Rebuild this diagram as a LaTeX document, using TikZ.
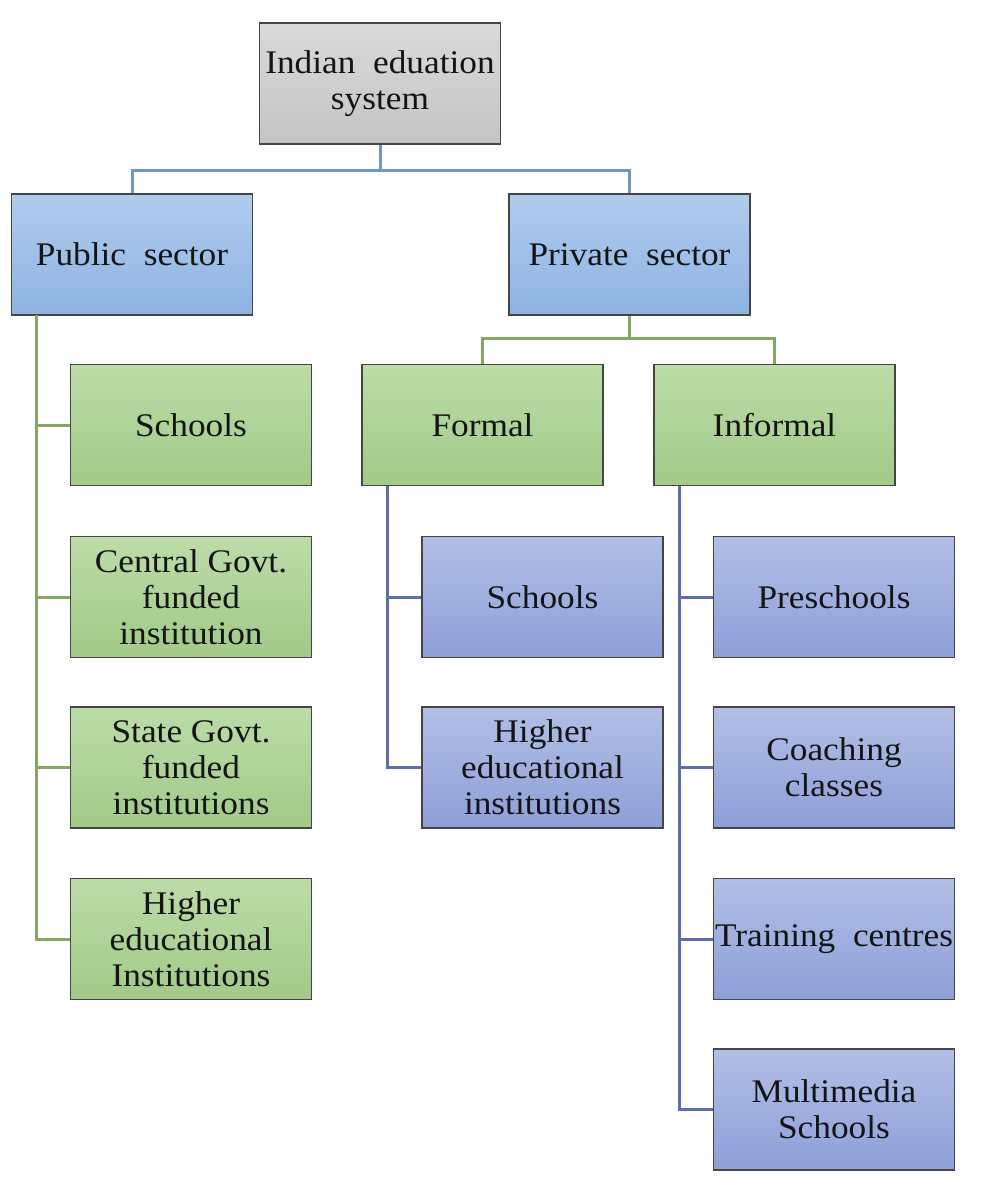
\documentclass[tikz,border=0pt]{standalone}
\usepackage{fontspec}
\setmainfont[FakeStretch=1.07]{Liberation Serif}
\definecolor{boxline}{HTML}{454545}
\definecolor{grayT}{HTML}{DADADA}\definecolor{grayB}{HTML}{C4C4C4}
\definecolor{blueT}{HTML}{B0CCEE}\definecolor{blueB}{HTML}{8EB3E2}
\definecolor{greenT}{HTML}{BCDCA8}\definecolor{greenB}{HTML}{A2CA88}
\definecolor{purT}{HTML}{B2BFE6}\definecolor{purB}{HTML}{8E9FD8}
\definecolor{lineblue}{HTML}{6F98C0}
\definecolor{linegreen}{HTML}{82A862}
\definecolor{linepur}{HTML}{5C6EA8}
\tikzset{
  box/.style={draw=boxline, line width=1.4pt, rectangle, minimum width=241pt, minimum height=121pt,
    align=center, inner sep=0pt, font=\fontsize{33}{36}\selectfont, text=black!92},
  graybox/.style={box, top color=grayT, bottom color=grayB},
  bluebox/.style={box, top color=blueT, bottom color=blueB},
  greenbox/.style={box, top color=greenT, bottom color=greenB},
  purbox/.style={box, top color=purT, bottom color=purB},
  bline/.style={draw=lineblue, line width=3pt},
  gline/.style={draw=linegreen, line width=3pt},
  pline/.style={draw=linepur, line width=3pt},
}
\begin{document}
\begin{tikzpicture}[x=1pt,y=-1pt]
\useasboundingbox (0,0) rectangle (983,1194);
% nodes
\node[graybox] (root) at (380,83.5) {Indian\ \ eduation\\system};
\node[bluebox] (pub) at (132,254.5) {Public\ \ sector};
\node[bluebox] (priv) at (629.5,254.5) {Private\ \ sector};
\node[greenbox] (g1) at (191,425) {Schools};
\node[greenbox] (g2) at (191,597) {Central Govt.\\funded\\institution};
\node[greenbox] (g3) at (191,767.5) {State Govt.\\funded\\institutions};
\node[greenbox] (g4) at (191,939) {Higher\\educational\\Institutions};
\node[greenbox] (formal) at (482.5,425) {Formal};
\node[greenbox] (informal) at (774.5,425) {Informal};
\node[purbox] (f1) at (542.5,597) {Schools};
\node[purbox] (f2) at (542.5,767.5) {Higher\\educational\\institutions};
\node[purbox] (i1) at (834,597) {Preschools};
\node[purbox] (i2) at (834,767.5) {Coaching\\classes};
\node[purbox] (i3) at (834,939) {Training\ \ centres};
\node[purbox] (i4) at (834,1109.5) {Multimedia\\Schools};
% junctions
\coordinate (rj) at (380,170);
\coordinate (pj) at (629.5,338);
\coordinate (pubt) at (36,315);
\coordinate (fort) at (387,485.5);
\coordinate (inft) at (679,485.5);
% connectors
\draw[bline] (root.south) -- (rj);
\draw[bline] (rj) -| (pub.north);
\draw[bline] (rj) -| (priv.north);
\draw[gline] (pubt) |- (g1.west);
\draw[gline] (pubt) |- (g2.west);
\draw[gline] (pubt) |- (g3.west);
\draw[gline] (pubt) |- (g4.west);
\draw[gline] (priv.south) -- (pj);
\draw[gline] (pj) -| (formal.north);
\draw[gline] (pj) -| (informal.north);
\draw[pline] (fort) |- (f1.west);
\draw[pline] (fort) |- (f2.west);
\draw[pline] (inft) |- (i1.west);
\draw[pline] (inft) |- (i2.west);
\draw[pline] (inft) |- (i3.west);
\draw[pline] (inft) |- (i4.west);
\end{tikzpicture}
\end{document}
